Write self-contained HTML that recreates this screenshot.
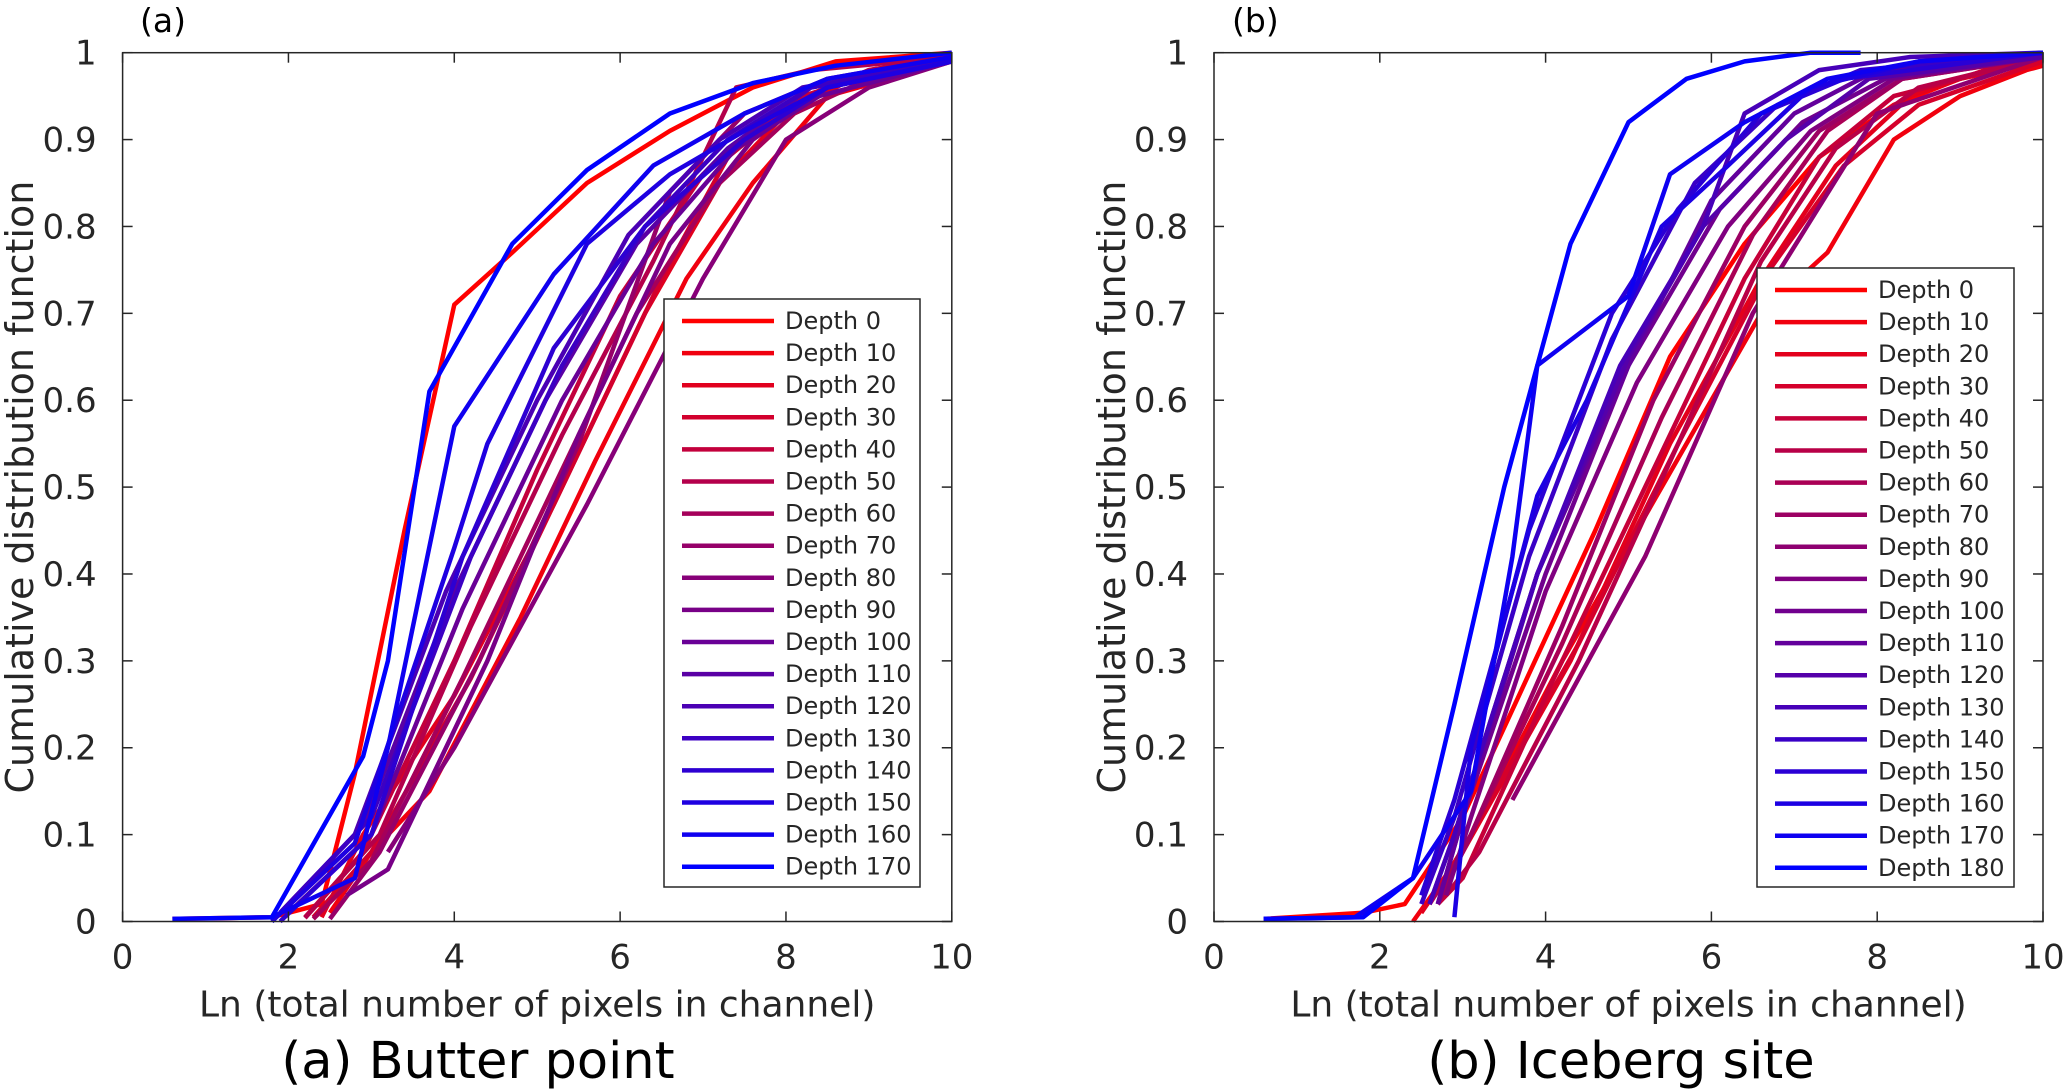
<!DOCTYPE html>
<html><head><meta charset="utf-8"><style>
html,body{margin:0;padding:0;background:#fff;}
svg{display:block;font-family:"DejaVu Sans","Liberation Sans",sans-serif;}
</style></head>
<body>
<svg id="fig" width="2067" height="1090" viewBox="0 0 2067 1090" xmlns="http://www.w3.org/2000/svg"></svg>
<script>
// ---------- data: panel (a) Butter point ----------
const labelsA = ["Depth 0","Depth 10","Depth 20","Depth 30","Depth 40","Depth 50","Depth 60","Depth 70","Depth 80","Depth 90","Depth 100","Depth 110","Depth 120","Depth 130","Depth 140","Depth 150","Depth 160","Depth 170"];
const xA = [
 [0.6,1.8,2.4,2.8,3.4,4.0,4.7,5.6,6.6,7.6,8.6,10],
 [2.5,3.0,3.7,4.8,5.7,6.8,7.6,8.5,10],
 [2.4,2.9,4.0,5.2,6.3,7.2,8.0,9.0,10],
 [2.3,3.0,4.2,5.4,6.5,7.3,8.2,9.2,10],
 [2.2,2.9,4.0,5.0,6.0,7.0,8.0,9.0,10],
 [2.2,3.1,4.2,5.3,6.4,7.4,8.3,10],
 [2.3,3.0,4.1,5.2,6.2,7.2,8.1,9.0,10],
 [2.5,3.1,4.3,5.5,6.6,7.5,8.5,10],
 [3.2,4.0,5.6,7.0,8.0,9.0,10],
 [2.7,3.2,4.4,5.5,6.6,7.6,8.5,10],
 [2.0,3.0,4.1,5.3,6.4,7.4,8.4,10],
 [1.9,2.9,4.0,5.1,6.2,7.3,8.3,10],
 [1.9,2.8,3.9,5.0,6.1,7.2,8.2,10],
 [1.9,3.0,4.2,5.3,6.3,7.3,8.3,10],
 [1.9,3.0,4.1,5.2,6.3,7.5,8.5,10],
 [1.8,2.8,4.0,4.4,5.6,6.6,7.5,8.5,10],
 [1.8,2.8,3.2,4.0,5.2,6.4,7.5,8.5,10],
 [0.6,1.8,2.9,3.2,3.7,4.7,5.6,6.6,7.6,8.6,10]
];
const yA = [
 [0.003,0.005,0.02,0.17,0.45,0.71,0.77,0.85,0.91,0.96,0.99,1.0],
 [0.01,0.08,0.15,0.35,0.53,0.74,0.85,0.95,0.99],
 [0.005,0.1,0.26,0.48,0.7,0.85,0.93,0.98,0.995],
 [0.005,0.08,0.28,0.52,0.74,0.88,0.95,0.98,0.995],
 [0.005,0.08,0.3,0.52,0.72,0.86,0.94,0.98,0.995],
 [0.004,0.1,0.34,0.56,0.76,0.96,0.98,0.995],
 [0.003,0.07,0.28,0.5,0.7,0.85,0.93,0.97,0.99],
 [0.003,0.08,0.3,0.55,0.84,0.93,0.97,0.995],
 [0.08,0.2,0.48,0.74,0.9,0.96,0.99],
 [0.03,0.06,0.3,0.56,0.78,0.9,0.96,0.99],
 [0.01,0.1,0.36,0.6,0.78,0.89,0.95,0.99],
 [0.01,0.11,0.38,0.6,0.78,0.89,0.96,0.99],
 [0.01,0.1,0.38,0.6,0.79,0.9,0.96,0.99],
 [0.01,0.12,0.42,0.64,0.8,0.9,0.96,0.99],
 [0.0,0.1,0.42,0.66,0.8,0.9,0.96,0.99],
 [0.0,0.09,0.43,0.55,0.78,0.86,0.91,0.96,0.99],
 [0.005,0.05,0.2,0.57,0.745,0.87,0.93,0.97,0.995],
 [0.003,0.005,0.19,0.3,0.61,0.78,0.865,0.93,0.965,0.985,1.0]
];
// ---------- data: panel (b) Iceberg site ----------
const labelsB = ["Depth 0","Depth 10","Depth 20","Depth 30","Depth 40","Depth 50","Depth 60","Depth 70","Depth 80","Depth 90","Depth 100","Depth 110","Depth 120","Depth 130","Depth 140","Depth 150","Depth 160","Depth 170","Depth 180"];
const xB = [
 [0.6,1.8,2.3,3.0,4.6,5.5,6.4,7.3,8.2,9.0,10],
 [2.4,3.0,4.2,5.4,6.6,7.4,8.2,9.0,9.8,10],
 [2.5,3.0,4.3,5.5,6.6,7.5,8.4,9.3,10],
 [2.6,3.1,4.4,5.6,6.7,7.6,8.5,10],
 [2.7,3.0,4.1,5.3,6.4,7.3,8.2,10],
 [2.8,3.2,4.4,5.6,6.6,7.5,8.5,10],
 [2.6,3.0,4.2,5.4,6.5,7.4,8.3,10],
 [2.7,3.1,4.2,5.3,6.4,7.3,8.3,10],
 [3.6,5.2,6.5,8.0,10],
 [2.8,3.1,4.0,5.1,6.2,7.2,8.2,10],
 [2.7,3.0,4.0,5.0,6.1,7.1,8.1,10],
 [2.7,3.0,3.9,5.0,6.0,7.0,8.0,10],
 [2.6,2.9,3.9,5.0,5.9,6.9,7.9,10],
 [2.6,2.9,3.9,4.9,5.9,6.4,7.3,8.4,10],
 [2.5,2.9,3.8,4.8,5.8,6.8,7.8,10],
 [2.5,2.9,3.8,4.8,5.6,6.6,7.6,10],
 [2.9,3.1,3.9,4.5,5.4,6.2,7.2,8.5,10],
 [0.6,1.7,2.4,3.1,3.6,3.9,5.0,5.5,6.4,7.4,8.5,10],
 [0.6,1.8,2.4,2.9,3.5,4.3,5.0,5.7,6.4,7.2,7.8]
];
const yB = [
 [0.003,0.01,0.02,0.12,0.45,0.65,0.78,0.88,0.94,0.97,0.99],
 [0.0,0.08,0.3,0.5,0.7,0.77,0.9,0.95,0.98,0.985],
 [0.01,0.08,0.3,0.55,0.74,0.87,0.95,0.98,0.99],
 [0.02,0.1,0.32,0.55,0.75,0.87,0.94,0.99],
 [0.02,0.05,0.28,0.52,0.74,0.88,0.95,0.995],
 [0.03,0.08,0.3,0.55,0.76,0.89,0.96,0.995],
 [0.02,0.08,0.32,0.58,0.79,0.91,0.97,0.995],
 [0.02,0.1,0.34,0.6,0.8,0.91,0.97,0.995],
 [0.14,0.42,0.7,0.93,0.995],
 [0.03,0.12,0.38,0.62,0.8,0.91,0.97,0.995],
 [0.02,0.12,0.4,0.64,0.82,0.92,0.97,0.995],
 [0.02,0.12,0.4,0.64,0.83,0.93,0.98,0.995],
 [0.02,0.1,0.4,0.65,0.8,0.9,0.97,0.995],
 [0.02,0.1,0.4,0.64,0.8,0.93,0.98,0.995,1.0],
 [0.02,0.12,0.42,0.67,0.85,0.94,0.98,1.0],
 [0.03,0.14,0.45,0.7,0.82,0.93,0.97,1.0],
 [0.005,0.2,0.49,0.6,0.8,0.87,0.96,0.99,1.0],
 [0.003,0.005,0.05,0.15,0.42,0.64,0.72,0.86,0.92,0.97,0.99,1.0],
 [0.003,0.005,0.05,0.25,0.5,0.78,0.92,0.97,0.99,1.0,1.0]
];
const xTicks = [0,2,4,6,8,10];
const yTicks = [0,0.1,0.2,0.3,0.4,0.5,0.6,0.7,0.8,0.9,1];
const yTickLabels = ["0","0.1","0.2","0.3","0.4","0.5","0.6","0.7","0.8","0.9","1"];

const NS = "http://www.w3.org/2000/svg";
const svg = document.getElementById('fig');
function mk(tag, attrs, parent){
  const e = document.createElementNS(NS, tag);
  for (const k in attrs) e.setAttribute(k, attrs[k]);
  (parent||svg).appendChild(e);
  return e;
}
function colorAt(i, n){
  const t = n>1 ? i/(n-1) : 0;
  return `rgb(${Math.round(255*(1-t))},0,${Math.round(255*t)})`;
}
function panel(cfg){
  const {L,R,T,B,labels,xs,ys,legend,tag,caption,ytitleX} = cfg;
  const sx = v => L + (v/10)*(R-L);
  const sy = v => B - v*(B-T);
  const g = mk('g',{});
  
  
  mk('rect',{x:L,y:T,width:R-L,height:B-T,fill:'#fff'},g);
  const sg = mk('g',{},g);
  for (let i=0;i<xs.length;i++){
    const pts = xs[i].map((x,j)=>sx(x).toFixed(1)+','+sy(ys[i][j]).toFixed(1)).join(' ');
    const pl = mk('polyline',{points:pts,fill:'none',stroke:colorAt(i,xs.length),'stroke-width':4.5,'stroke-linejoin':'round'},sg);
    
    
  }
  const box = mk('rect',{x:L,y:T,width:R-L,height:B-T,fill:'none',stroke:'#262626','stroke-width':1.5},g);
  
  
  xTicks.forEach(v=>{
    const x = sx(v);
    mk('line',{x1:x,y1:B,x2:x,y2:B-10,stroke:'#262626','stroke-width':1.5},g);
    mk('line',{x1:x,y1:T,x2:x,y2:T+10,stroke:'#262626','stroke-width':1.5},g);
    const t = mk('text',{x:x,y:B+47,'font-size':34,fill:'#262626','text-anchor':'middle'},g);
    t.textContent = String(v);
    
    
  });
  yTicks.forEach((v,k)=>{
    const y = sy(v);
    mk('line',{x1:L,y1:y,x2:L+10,y2:y,stroke:'#262626','stroke-width':1.5},g);
    mk('line',{x1:R,y1:y,x2:R-10,y2:y,stroke:'#262626','stroke-width':1.5},g);
    const t = mk('text',{x:L-26,y:y+12,'font-size':34,fill:'#262626','text-anchor':'end'},g);
    t.textContent = yTickLabels[k];
    
    
  });
  const xt = mk('text',{x:(L+R)/2,y:B+95,'font-size':36,fill:'#262626','text-anchor':'middle'},g);
  xt.textContent = 'Ln (total number of pixels in channel)';
  
  
  const yt = mk('text',{x:0,y:0,'font-size':38,fill:'#262626','text-anchor':'middle',transform:`translate(${ytitleX},${(T+B)/2}) rotate(-90)`},g);
  yt.textContent = 'Cumulative distribution function';
  
  
  const pl = mk('text',{x:cfg.tagX,y:32,'font-size':33,fill:'#000'},g);
  pl.textContent = '('+tag+')';
  
  
  const cap = mk('text',{x:cfg.capX,y:1078,'font-size':51,fill:'#000','text-anchor':'middle'},g);
  cap.textContent = caption;
  
  
  const lg = mk('g',{},g);
  
  
  mk('rect',{x:legend.x,y:legend.y,width:legend.w,height:legend.h,fill:'#fff',stroke:'#262626','stroke-width':1.5},lg);
  const rowH = 32.1;
  labels.forEach((lab,i)=>{
    const cy = legend.y + 22 + i*rowH;
    const e = mk('g',{},lg);
    
    
    mk('line',{x1:legend.x+18,y1:cy,x2:legend.x+110,y2:cy,stroke:colorAt(i,labels.length),'stroke-width':4.5},e);
    const t = mk('text',{x:legend.x+121,y:cy+8,'font-size':24,fill:'#262626'},e);
    t.textContent = lab;
  });
}
panel({L:122.6,R:951.8,T:52.7,B:921.5,labels:labelsA,xs:xA,ys:yA,tag:'a',caption:'(a) Butter point',ytitleX:33,tagX:140,capX:478,
  legend:{x:664,y:299,w:256,h:588}});
panel({L:1214,R:2043,T:52.7,B:921.5,labels:labelsB,xs:xB,ys:yB,tag:'b',caption:'(b) Iceberg site',ytitleX:1125,tagX:1232,capX:1621,
  legend:{x:1757,y:268,w:257,h:619}});
</script>
</body></html>
